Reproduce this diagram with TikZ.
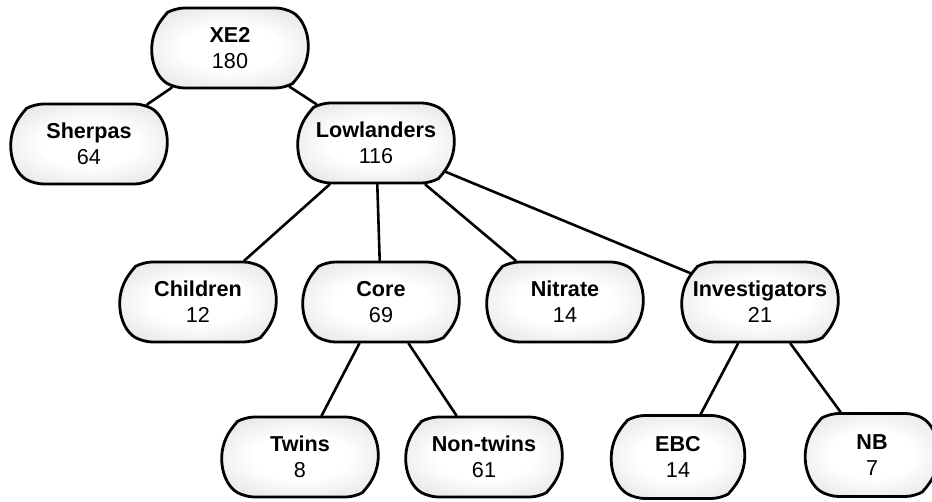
\documentclass[tikz,border=0pt]{standalone}
\usepackage{fontspec}
\setmainfont{Liberation Sans}
\usetikzlibrary{shapes.misc}
\pgfdeclareradialshading{podshade}{\pgfpoint{0bp}{0bp}}{color(0bp)=(white); color(14bp)=(white); color(34bp)=(black!12); color(50bp)=(black!32); color(60bp)=(black!36)}
\tikzset{
	grp/.style={rounded rectangle, rounded rectangle arc length=120, rounded corners=9pt,
		draw, line width=2.8pt, shading=podshade,
		minimum width=156pt, minimum height=80pt, inner sep=0pt, align=center,
		font=\fontsize{21.6}{26}\selectfont},
	small/.style={minimum width=133pt, minimum height=83pt},
	link/.style={line width=2.6pt}
}
\begin{document}
\begin{tikzpicture}[x=1pt, y=-1pt, line join=round, line cap=round]
	\useasboundingbox (0,0) rectangle (932,502);
	% top
	\node[grp] (xe2) at (230,48) {\textbf{XE2}\\180};
	\node[grp] (sherpas) at (89,144) {\textbf{Sherpas}\\64};
	\node[grp] (low) at (376,143) {\textbf{Lowlanders}\\116};
	% lowlanders groups
	\node[grp] (children) at (198,302) {\textbf{Children}\\12};
	\node[grp] (core) at (381,302) {\textbf{Core}\\69};
	\node[grp] (nitrate) at (565,302) {\textbf{Nitrate}\\14};
	\node[grp] (inv) at (760,302) {\textbf{Investigators}\\21};
	% bottom
	\node[grp] (twins) at (300,457) {\textbf{Twins}\\8};
	\node[grp] (nontwins) at (484,457) {\textbf{Non-twins}\\61};
	\node[grp, small] (ebc) at (678,457) {\textbf{EBC}\\14};
	\node[grp, small] (nb) at (872,455) {\textbf{NB}\\7};
	\draw[link] (xe2) -- (sherpas) (xe2) -- (low);
	\foreach \n in {children, core, nitrate, inv}
		\draw[link] (low) -- (\n);
	\draw[link] (core) -- (twins) (core) -- (nontwins);
	\draw[link] (inv) -- (ebc) (inv) -- (nb);
\end{tikzpicture}
\end{document}
